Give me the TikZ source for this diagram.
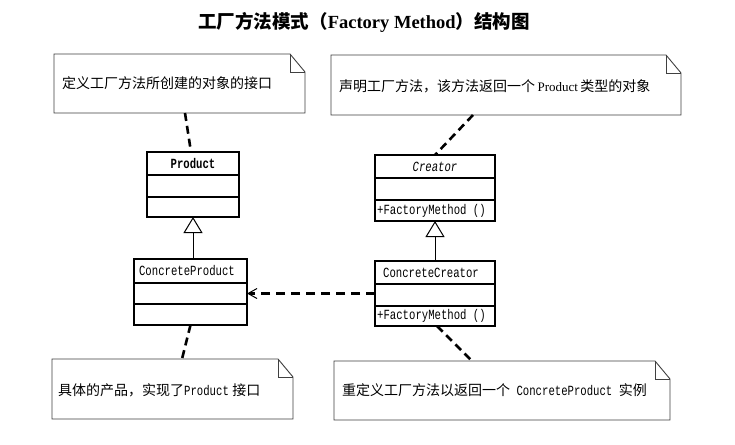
\documentclass[tikz,border=0pt]{standalone}
\usepackage{fontspec}
\setmainfont{Liberation Serif}
\newfontfamily\cjk{Noto Sans CJK SC}
\newfontfamily\monof[FakeStretch=0.76]{Liberation Mono}
\usetikzlibrary{arrows.meta,calc}
\begin{document}
\begin{tikzpicture}[x=1pt,y=-1pt,
  classbox/.style={draw=black,line width=1.1pt,inner sep=0pt,outer sep=0pt,anchor=north west},
  sectline/.style={draw=black,line width=1.1pt},
  notearea/.style={draw=none,inner sep=0pt,outer sep=0pt,anchor=north west},
  noteline/.style={draw=black!75,line width=0.9pt,line join=miter},
  notetext/.style={inner sep=0pt,anchor=west,font=\fontsize{14}{16}\selectfont},
  classtext/.style={inner sep=0pt,font=\fontsize{14}{16}\monof},
  notelink/.style={draw=black,line width=2.6pt,dash pattern=on 8pt off 5pt},
  deplink/.style={draw=black,line width=2.4pt,dash pattern=on 9pt off 6pt,
     -{Straight Barb[length=9pt,width=10pt,line width=1pt]}},
  inherit/.style={draw=black,line width=1pt,-{Triangle[open,length=16pt,width=19pt,line width=1pt]}}
]
\useasboundingbox[fill=white] (0,0) rectangle (735,444);

% title
\node[inner sep=0pt,font=\fontsize{18.5}{20}\selectfont] (title) at (364,22)
  {{\cjk\bfseries 工厂方法模式（}{\bfseries Factory Method}{\cjk\bfseries ）结构图}};

% notes
\node[notearea,minimum width=251pt,minimum height=59pt] (n1) at (54,54) {};
\node[notearea,minimum width=350pt,minimum height=60pt] (n2) at (331,55) {};
\node[notearea,minimum width=241pt,minimum height=60pt] (n3) at (52,359) {};
\node[notearea,minimum width=336pt,minimum height=59pt] (n4) at (334,361) {};
\foreach \n in {n1,n2,n3,n4}{
  \draw[noteline] (\n.north west) -- ($(\n.north east)+(-15,0)$) -- ($(\n.north east)+(0,18)$)
     -- (\n.south east) -- (\n.south west) -- cycle;
  \draw[noteline] ($(\n.north east)+(-15,0)$) -- ($(\n.north east)+(-15,18)$) -- ($(\n.north east)+(0,18)$);
}
\node[notetext] (t1) at ($(n1.west)+(8,0)$) {\cjk 定义工厂方法所创建的对象的接口};
\node[notetext] (t2) at ($(n2.west)+(8,1)$) {{\cjk 声明工厂方法，该方法返回一个}\,{\fontsize{13}{15}\selectfont Product}\,{\cjk 类型的对象}};
\node[notetext] (t3) at ($(n3.west)+(6,1)$) {{\cjk 具体的产品，实现了}{\fontsize{14}{16}\monof Product} {\cjk 接口}};
\node[notetext] (t4) at ($(n4.west)+(8,0)$) {{\cjk 重定义工厂方法以返回一个}{\fontsize{14}{16}\monof\ ConcreteProduct\ }{\cjk 实例}};

% classes
\node[classbox,minimum width=92pt,minimum height=65pt] (product) at (147,152) {};
\draw[sectline] (147,175) -- (239,175);
\draw[sectline] (147,197) -- (239,197);
\node[classtext,font=\fontsize{14}{16}\monof\bfseries] (productname) at (193,163.5) {Product};

\node[classbox,minimum width=120pt,minimum height=66pt] (creator) at (375,155) {};
\draw[sectline] (375,178) -- (495,178);
\draw[sectline] (375,200) -- (495,200);
\node[classtext,font=\fontsize{14}{16}\monof\itshape] (creatorname) at (435,166.5) {Creator};
\node[classtext,anchor=west] (creatorop) at (377,210.5) {+FactoryMethod ()};

\node[classbox,minimum width=113pt,minimum height=66pt] (cproduct) at (134,259) {};
\draw[sectline] (134,283) -- (247,283);
\draw[sectline] (134,304) -- (247,304);
\node[classtext] (cproductname) at (187,271) {ConcreteProduct};

\node[classbox,minimum width=120pt,minimum height=65pt] (ccreator) at (375,261) {};
\draw[sectline] (375,284) -- (495,284);
\draw[sectline] (375,306) -- (495,306);
\node[classtext] (ccreatorname) at (431,272.5) {ConcreteCreator};
\node[classtext,anchor=west] (ccreatorop) at (377,316) {+FactoryMethod ()};

% inheritance
\draw[inherit] (cproduct.north -| product.south) -- (product.south);
\draw[inherit] (ccreator.north) -- (creator.south);

% dependency
\draw[deplink] (ccreator.west) -- (cproduct.east |- ccreator.west);

% note links
\draw[notelink] ($(n1.south west)+(131,0)$) -- ($(product.north)+(-2,0)$);
\draw[notelink] ($(n2.south west)+(142,0)$) -- (creator.north);
\draw[notelink] (cproduct.south) -- ($(n3.north west)+(130,0)$);
\draw[notelink] ($(ccreator.south)+(2,0)$) -- ($(n4.north west)+(138,0)$);
\end{tikzpicture}
\end{document}
